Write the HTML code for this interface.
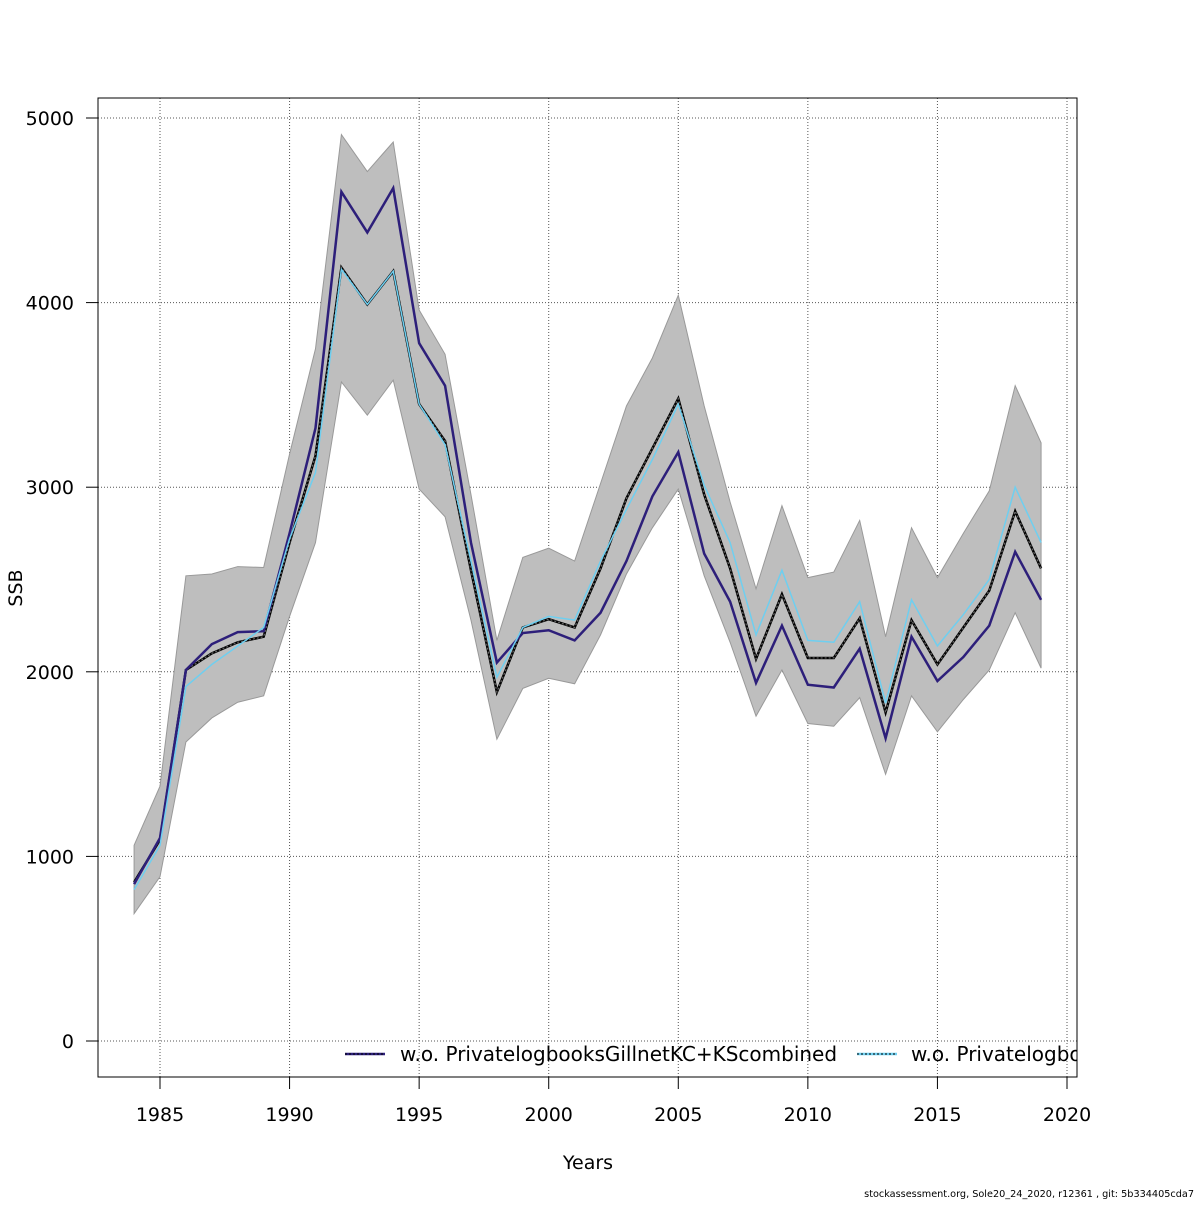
<!DOCTYPE html>
<html><head><meta charset="utf-8"><style>
body{margin:0;background:#fff}
svg text{font-family:"DejaVu Sans","Liberation Sans",sans-serif;fill:#000}
</style></head><body>
<svg id="chart" width="1200" height="1200" xmlns="http://www.w3.org/2000/svg">
<defs><clipPath id="clip"><rect x="98" y="98" width="979" height="979"/></clipPath></defs>
<g id="grid"></g>
<g id="band" clip-path="url(#clip)"></g>
<g id="lines" clip-path="url(#clip)"></g>
<rect x="98" y="98" width="979" height="979" fill="none" stroke="#000" stroke-width="1"/>
<g id="axes"></g>
<g id="legend" clip-path="url(#clip)"></g>
<text x="588" y="1169" font-size="19" text-anchor="middle">Years</text>
<text transform="translate(22,588) rotate(-90)" font-size="19" text-anchor="middle">SSB</text>
<text x="1194" y="1197" font-size="9.7" text-anchor="end">stockassessment.org, Sole20_24_2020, r12361 , git: 5b334405cda7</text>
</svg>
<script>
const years=[1984,1985,1986,1987,1988,1989,1990,1991,1992,1993,1994,1995,1996,1997,1998,1999,2000,2001,2002,2003,2004,2005,2006,2007,2008,2009,2010,2011,2012,2013,2014,2015,2016,2017,2018,2019];
const seriesGillnet=[850,1100,2010,2150,2215,2220,2750,3320,4600,4380,4620,3780,3550,2700,2050,2210,2225,2170,2320,2600,2950,3190,2640,2380,1940,2250,1930,1915,2125,1640,2190,1950,2080,2250,2650,2390];
const seriesBase=[860,1090,2010,2100,2160,2190,2700,3170,4190,3990,4170,3450,3250,2550,1890,2240,2285,2240,2560,2940,3210,3480,2960,2560,2070,2420,2075,2075,2290,1780,2280,2040,2240,2440,2870,2560];
const seriesPrivate=[820,1060,1920,2040,2140,2240,2720,3080,4180,3990,4170,3450,3230,2600,1970,2240,2300,2280,2600,2880,3150,3450,3010,2700,2200,2550,2170,2160,2380,1830,2390,2140,2310,2500,3000,2700];
const bandUpper=[1060,1380,2520,2530,2570,2565,3180,3750,4910,4710,4870,3960,3720,2960,2170,2620,2670,2600,3020,3440,3700,4040,3440,2920,2450,2900,2510,2540,2820,2190,2780,2510,2750,2980,3550,3240];
const bandLower=[690,890,1620,1750,1835,1870,2300,2700,3570,3390,3580,2990,2840,2280,1635,1910,1965,1935,2200,2530,2780,2990,2520,2160,1760,2010,1720,1705,1860,1445,1870,1675,1850,2010,2320,2020];
const xTicks=[1985,1990,1995,2000,2005,2010,2015,2020];
const yTicks=[0,1000,2000,3000,4000,5000];

const NS="http://www.w3.org/2000/svg";
const xs=y=>160+(y-1985)*(1067-160)/35;
const ys=v=>1041-v*(1041-118)/5000;
function mk(tag,attrs,parent){const e=document.createElementNS(NS,tag);for(const k in attrs)e.setAttribute(k,attrs[k]);parent.appendChild(e);return e;}
const grid=document.getElementById('grid'),axes=document.getElementById('axes');
xTicks.forEach(t=>{
 const l=mk('line',{x1:xs(t),x2:xs(t),y1:98,y2:1077,stroke:'#555','stroke-dasharray':'1,2'},grid);
 
 
 const tk=mk('line',{x1:xs(t),x2:xs(t),y1:1077,y2:1089,stroke:'#000'},axes);
 
 
 const tx=mk('text',{x:xs(t),y:1121,'font-size':19,'text-anchor':'middle'},axes);tx.textContent=t;
 
 
});
yTicks.forEach(t=>{
 const l=mk('line',{x1:98,x2:1077,y1:ys(t),y2:ys(t),stroke:'#555','stroke-dasharray':'1,2'},grid);
 
 
 const tk=mk('line',{x1:86,x2:98,y1:ys(t),y2:ys(t),stroke:'#000'},axes);
 
 
 const tx=mk('text',{x:74,y:ys(t)+7,'font-size':19,'text-anchor':'end'},axes);tx.textContent=t;
 
 
});
const up=years.map((y,i)=>xs(y)+','+ys(bandUpper[i]));
const lo=years.map((y,i)=>xs(y)+','+ys(bandLower[i])).reverse();
const band=mk('polygon',{points:up.concat(lo).join(' '),fill:'#bebebe',stroke:'#999','stroke-width':1},document.getElementById('band'));


const lines=document.getElementById('lines');
function pl(vals,attrs,name){const p=mk('polyline',Object.assign({points:years.map((y,i)=>xs(y)+','+ys(vals[i])).join(' '),fill:'none'},attrs),lines);
 
 }
pl(seriesBase,{stroke:'#000','stroke-width':2.5},'base-run-line');
pl(seriesBase,{stroke:'#666','stroke-width':1.2,'stroke-dasharray':'2,2'},'base-run-dashes');
pl(seriesGillnet,{stroke:'#2d1f7a','stroke-width':2.5},'gillnet-excluded-line');
pl(seriesPrivate,{stroke:'#6ecff0','stroke-width':1.5},'private-excluded-line');
const lg=document.getElementById('legend');
[[345,400,'#2d1f7a','w.o. PrivatelogbooksGillnetKC+KScombined','legend-entry-gillnet'],[857,911,'#6ecff0','w.o. Privatelogbooks','legend-entry-private']].forEach(d=>{
 const g=mk('g',{},lg);
 
 
 mk('line',{x1:d[0],x2:d[0]+40,y1:1054,y2:1054,stroke:d[2],'stroke-width':2.5},g);
 mk('line',{x1:d[0],x2:d[0]+40,y1:1054,y2:1054,stroke:'#000','stroke-width':1,'stroke-dasharray':'2,2'},g);
 const t=mk('text',{x:d[1],y:1061,'font-size':20},g);t.textContent=d[3];
});
</script>
</body></html>
